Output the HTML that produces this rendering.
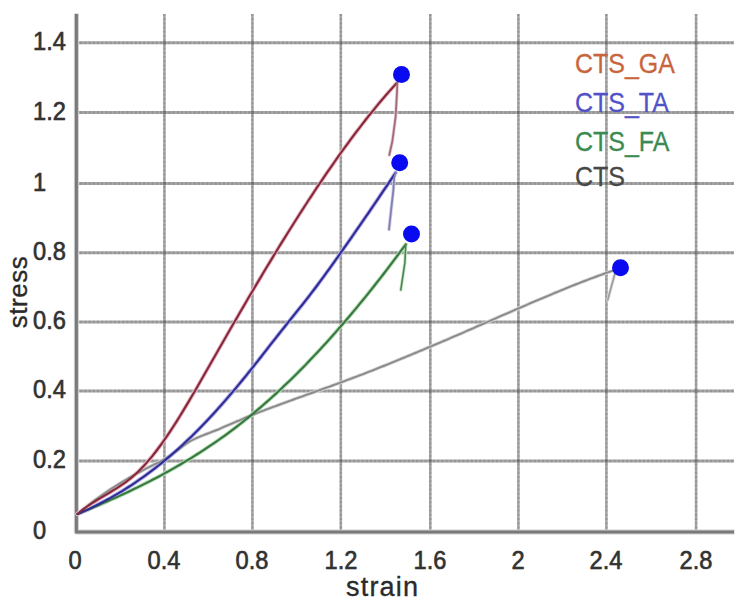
<!DOCTYPE html>
<html><head><meta charset="utf-8"><style>
html,body{margin:0;padding:0;background:#fff;}
body{width:748px;height:604px;overflow:hidden;position:relative;font-family:"Liberation Sans",sans-serif;}
svg{position:absolute;left:0;top:0;}
.t{position:absolute;white-space:nowrap;line-height:1;}
.yl{font-size:26px;color:#333;-webkit-text-stroke:0.4px #333;text-shadow:0 0 1px rgba(40,40,40,0.6);left:32.5px;transform:scaleX(0.91);transform-origin:0 0;}
.xl{font-size:26px;color:#333;-webkit-text-stroke:0.4px #333;text-shadow:0 0 1px rgba(40,40,40,0.6);top:546.9px;transform:translateX(-50%) scaleX(0.91);transform-origin:50% 0;}
.lg{font-size:28px;left:575px;-webkit-text-stroke-width:0.3px;transform:scaleX(0.892);transform-origin:0 0;}
</style></head><body>
<svg width="748" height="604" viewBox="0 0 748 604">
<defs></defs>
<g>
<g stroke="#505050" stroke-opacity="0.5" stroke-width="3" fill="none">
<line x1="76" y1="460.9" x2="734" y2="460.9"/>
<line x1="76" y1="391.0" x2="734" y2="391.0"/>
<line x1="76" y1="322.0" x2="734" y2="322.0"/>
<line x1="76" y1="252.8" x2="734" y2="252.8"/>
<line x1="76" y1="183.5" x2="734" y2="183.5"/>
<line x1="76" y1="112.5" x2="734" y2="112.5"/>
<line x1="76" y1="42.8" x2="734" y2="42.8"/>
</g>
<g stroke="#505050" stroke-opacity="0.2" stroke-width="3" fill="none" stroke-dasharray="2 2.2">
<line x1="76" y1="460.9" x2="734" y2="460.9"/>
<line x1="76" y1="391.0" x2="734" y2="391.0"/>
<line x1="76" y1="322.0" x2="734" y2="322.0"/>
<line x1="76" y1="252.8" x2="734" y2="252.8"/>
<line x1="76" y1="183.5" x2="734" y2="183.5"/>
<line x1="76" y1="112.5" x2="734" y2="112.5"/>
<line x1="76" y1="42.8" x2="734" y2="42.8"/>
</g>
<g stroke="#505050" stroke-opacity="0.5" stroke-width="3" fill="none">
<line x1="164.4" y1="14" x2="164.4" y2="531" stroke-width="2.6"/>
<line x1="252.4" y1="14" x2="252.4" y2="531" stroke-width="2.6"/>
<line x1="340.8" y1="14" x2="340.8" y2="531" stroke-width="2.6"/>
<line x1="430.3" y1="14" x2="430.3" y2="531" stroke-width="2.6"/>
<line x1="518.4" y1="14" x2="518.4" y2="531" stroke-width="2.6"/>
<line x1="606.4" y1="14" x2="606.4" y2="531" stroke-width="2.6"/>
<line x1="696.1" y1="14" x2="696.1" y2="531" stroke-width="2.6"/>
</g>
<g stroke="#505050" stroke-opacity="0.2" stroke-width="3" fill="none" stroke-dasharray="2 2.2">
<line x1="164.4" y1="14" x2="164.4" y2="531" stroke-width="2.6"/>
<line x1="252.4" y1="14" x2="252.4" y2="531" stroke-width="2.6"/>
<line x1="340.8" y1="14" x2="340.8" y2="531" stroke-width="2.6"/>
<line x1="430.3" y1="14" x2="430.3" y2="531" stroke-width="2.6"/>
<line x1="518.4" y1="14" x2="518.4" y2="531" stroke-width="2.6"/>
<line x1="606.4" y1="14" x2="606.4" y2="531" stroke-width="2.6"/>
<line x1="696.1" y1="14" x2="696.1" y2="531" stroke-width="2.6"/>
</g>
<path d="M76.4,13.5 V532 H734.5" stroke="#cfcfcf" stroke-width="5" fill="none" stroke-linejoin="round"/>
<path d="M76.4,14 V532 H734" stroke="#7a7a7a" stroke-width="3" fill="none" stroke-linejoin="round"/>
<g fill="none" stroke-linecap="round" stroke-linejoin="round">
<path d="M77.5,514.0 L80.5,511.5 L83.5,509.0 L86.5,506.7 L89.5,504.3 L92.5,502.0 L95.5,499.8 L98.5,497.6 L101.5,495.5 L104.5,493.4 L107.5,491.3 L110.5,489.3 L113.5,487.4 L116.5,485.5 L119.5,483.6 L122.5,481.8 L125.5,480.0 L128.5,478.2 L131.5,476.5 L134.5,474.8 L137.5,473.2 L140.5,471.6 L143.5,470.0 L146.5,468.4 L149.5,466.9 L152.5,465.4 L155.5,463.9 L158.5,462.4 L161.5,460.8 L164.5,459.2 L167.5,457.4 L170.5,455.5 L173.5,453.3 L176.5,451.0 L179.5,448.7 L182.5,446.4 L185.5,444.2 L188.5,442.2 L191.5,440.5 L194.5,439.0 L197.5,437.6 L200.5,436.4 L203.5,435.2 L206.5,434.0 L209.5,432.9 L212.5,431.7 L215.5,430.5 L218.5,429.3 L221.5,428.0 L224.5,426.7 L227.5,425.4 L230.5,424.1 L233.5,422.8 L236.5,421.5 L239.5,420.3 L242.5,419.0 L245.5,417.7 L248.5,416.5 L251.5,415.3 L254.5,414.1 L257.5,412.9 L260.5,411.7 L263.5,410.6 L266.5,409.4 L269.5,408.3 L272.5,407.2 L275.5,406.1 L278.5,405.0 L281.5,403.9 L284.5,402.8 L287.5,401.7 L290.5,400.6 L293.5,399.5 L296.5,398.4 L299.5,397.3 L302.5,396.3 L305.5,395.2 L308.5,394.1 L311.5,393.0 L314.5,392.0 L317.5,390.9 L320.5,389.8 L323.5,388.7 L326.5,387.6 L329.5,386.6 L332.5,385.5 L335.5,384.4 L338.5,383.3 L341.5,382.2 L344.5,381.1 L347.5,379.9 L350.5,378.8 L353.5,377.7 L356.5,376.6 L359.5,375.4 L362.5,374.3 L365.5,373.1 L368.5,371.9 L371.5,370.8 L374.5,369.6 L377.5,368.4 L380.5,367.2 L383.5,366.0 L386.5,364.8 L389.5,363.6 L392.5,362.4 L395.5,361.2 L398.5,359.9 L401.5,358.7 L404.5,357.5 L407.5,356.2 L410.5,355.0 L413.5,353.7 L416.5,352.5 L419.5,351.2 L422.5,350.0 L425.5,348.7 L428.5,347.4 L431.5,346.2 L434.5,344.9 L437.5,343.6 L440.5,342.3 L443.5,341.0 L446.5,339.8 L449.5,338.5 L452.5,337.2 L455.5,335.9 L458.5,334.6 L461.5,333.3 L464.5,332.0 L467.5,330.7 L470.5,329.4 L473.5,328.1 L476.5,326.7 L479.5,325.4 L482.5,324.1 L485.5,322.8 L488.5,321.5 L491.5,320.2 L494.5,318.9 L497.5,317.5 L500.5,316.2 L503.5,314.9 L506.5,313.6 L509.5,312.3 L512.5,311.0 L515.5,309.7 L518.5,308.4 L521.5,307.1 L524.5,305.8 L527.5,304.5 L530.5,303.2 L533.5,301.9 L536.5,300.6 L539.5,299.3 L542.5,298.1 L545.5,296.8 L548.5,295.6 L551.5,294.3 L554.5,293.0 L557.5,291.8 L560.5,290.6 L563.5,289.4 L566.5,288.1 L569.5,286.9 L572.5,285.7 L575.5,284.5 L578.5,283.4 L581.5,282.2 L584.5,281.0 L587.5,279.9 L590.5,278.7 L593.5,277.6 L596.5,276.5 L599.5,275.4 L602.5,274.3 L605.5,273.2 L608.5,272.1 L611.5,271.1 L614.5,270.0 L616.0,269.5" stroke="#d6d6d6" stroke-width="3.6"/>
<path d="M616.0,269.5 L607.7,300.0" stroke="#dedede" stroke-width="3.2"/>
<path d="M77.5,514.0 L80.5,512.8 L83.5,511.5 L86.5,510.3 L89.5,509.0 L92.5,507.7 L95.5,506.5 L98.5,505.2 L101.5,503.9 L104.5,502.6 L107.5,501.3 L110.5,499.9 L113.5,498.6 L116.5,497.2 L119.5,495.9 L122.5,494.5 L125.5,493.1 L128.5,491.7 L131.5,490.3 L134.5,488.8 L137.5,487.4 L140.5,485.9 L143.5,484.4 L146.5,482.9 L149.5,481.4 L152.5,479.8 L155.5,478.3 L158.5,476.7 L161.5,475.1 L164.5,473.4 L167.5,471.8 L170.5,470.1 L173.5,468.4 L176.5,466.7 L179.5,465.0 L182.5,463.2 L185.5,461.4 L188.5,459.6 L191.5,457.8 L194.5,455.9 L197.5,454.0 L200.5,452.1 L203.5,450.2 L206.5,448.2 L209.5,446.2 L212.5,444.2 L215.5,442.1 L218.5,440.0 L221.5,437.9 L224.5,435.8 L227.5,433.6 L230.5,431.4 L233.5,429.1 L236.5,426.8 L239.5,424.5 L242.5,422.2 L245.5,419.8 L248.5,417.4 L251.5,414.9 L254.5,412.4 L257.5,409.9 L260.5,407.4 L263.5,404.8 L266.5,402.1 L269.5,399.5 L272.5,396.8 L275.5,394.1 L278.5,391.3 L281.5,388.5 L284.5,385.6 L287.5,382.8 L290.5,379.9 L293.5,376.9 L296.5,374.0 L299.5,371.0 L302.5,367.9 L305.5,364.9 L308.5,361.7 L311.5,358.6 L314.5,355.4 L317.5,352.2 L320.5,349.0 L323.5,345.7 L326.5,342.5 L329.5,339.1 L332.5,335.8 L335.5,332.4 L338.5,328.9 L341.5,325.5 L344.5,322.0 L347.5,318.5 L350.5,315.0 L353.5,311.4 L356.5,307.8 L359.5,304.1 L362.5,300.5 L365.5,296.8 L368.5,293.1 L371.5,289.3 L374.5,285.5 L377.5,281.7 L380.5,277.9 L383.5,274.0 L386.5,270.1 L389.5,266.2 L392.5,262.2 L395.5,258.2 L398.5,254.2 L401.5,250.2 L404.5,246.1 L405.8,244.4" stroke="#b8ddb8" stroke-width="4"/>
<path d="M405.8,244.5 L404.9,262.4 L400.8,290.0" stroke="#c4e2c4" stroke-width="3.2"/>
<path d="M77.5,514.0 L80.5,512.7 L83.5,511.4 L86.5,510.1 L89.5,508.7 L92.5,507.2 L95.5,505.8 L98.5,504.3 L101.5,502.7 L104.5,501.1 L107.5,499.5 L110.5,497.9 L113.5,496.1 L116.5,494.4 L119.5,492.6 L122.5,490.8 L125.5,488.9 L128.5,487.0 L131.5,485.1 L134.5,483.1 L137.5,481.0 L140.5,478.9 L143.5,476.8 L146.5,474.6 L149.5,472.4 L152.5,470.2 L155.5,467.9 L158.5,465.5 L161.5,463.1 L164.5,460.6 L167.5,458.1 L170.5,455.6 L173.5,453.0 L176.5,450.4 L179.5,447.7 L182.5,444.9 L185.5,442.1 L188.5,439.3 L191.5,436.4 L194.5,433.5 L197.5,430.5 L200.5,427.4 L203.5,424.3 L206.5,421.2 L209.5,418.0 L212.5,414.8 L215.5,411.5 L218.5,408.1 L221.5,404.8 L224.5,401.4 L227.5,397.9 L230.5,394.4 L233.5,390.9 L236.5,387.3 L239.5,383.7 L242.5,380.0 L245.5,376.4 L248.5,372.6 L251.5,368.9 L254.5,365.1 L257.5,361.3 L260.5,357.5 L263.5,353.6 L266.5,349.8 L269.5,345.9 L272.5,342.1 L275.5,338.3 L278.5,334.5 L281.5,330.7 L284.5,327.0 L287.5,323.2 L290.5,319.4 L293.5,315.7 L296.5,311.9 L299.5,308.2 L302.5,304.5 L305.5,300.7 L308.5,296.8 L311.5,292.9 L314.5,289.0 L317.5,285.0 L320.5,280.9 L323.5,276.9 L326.5,272.7 L329.5,268.6 L332.5,264.4 L335.5,260.2 L338.5,256.0 L341.5,251.7 L344.5,247.4 L347.5,243.2 L350.5,238.8 L353.5,234.5 L356.5,230.2 L359.5,225.9 L362.5,221.5 L365.5,217.2 L368.5,212.8 L371.5,208.4 L374.5,204.0 L377.5,199.6 L380.5,195.2 L383.5,190.7 L386.5,186.3 L389.5,181.8 L392.5,177.4 L395.5,172.9 L395.6,172.7" stroke="#b4b0e8" stroke-width="4"/>
<path d="M395.6,172.7 L394.1,178.0 L393.4,189.8 L391.2,209.1 L389.0,229.5" stroke="#d0cfe6" stroke-width="3.4"/>
<path d="M77.5,514.0 L80.5,511.5 L83.5,509.2 L86.5,507.0 L89.5,504.9 L92.5,502.9 L95.5,501.0 L98.5,499.2 L101.5,497.4 L104.5,495.6 L107.5,493.8 L110.5,492.0 L113.5,490.2 L116.5,488.4 L119.5,486.4 L122.5,484.4 L125.5,482.3 L128.5,480.0 L131.5,477.6 L134.5,475.0 L137.5,472.3 L140.5,469.3 L143.5,466.2 L146.5,462.9 L149.5,459.4 L152.5,455.8 L155.5,452.0 L158.5,448.0 L161.5,444.0 L164.5,439.7 L167.5,435.4 L170.5,430.9 L173.5,426.3 L176.5,421.6 L179.5,416.8 L182.5,411.9 L185.5,406.9 L188.5,401.9 L191.5,396.8 L194.5,391.7 L197.5,386.5 L200.5,381.3 L203.5,376.0 L206.5,370.8 L209.5,365.5 L212.5,360.2 L215.5,355.0 L218.5,349.7 L221.5,344.5 L224.5,339.2 L227.5,334.0 L230.5,328.8 L233.5,323.6 L236.5,318.4 L239.5,313.2 L242.5,308.1 L245.5,303.0 L248.5,297.8 L251.5,292.7 L254.5,287.7 L257.5,282.6 L260.5,277.6 L263.5,272.5 L266.5,267.5 L269.5,262.6 L272.5,257.6 L275.5,252.7 L278.5,247.8 L281.5,242.9 L284.5,238.1 L287.5,233.3 L290.5,228.5 L293.5,223.7 L296.5,219.0 L299.5,214.3 L302.5,209.6 L305.5,205.0 L308.5,200.3 L311.5,195.8 L314.5,191.2 L317.5,186.7 L320.5,182.3 L323.5,177.8 L326.5,173.4 L329.5,169.1 L332.5,164.8 L335.5,160.5 L338.5,156.2 L341.5,152.0 L344.5,147.9 L347.5,143.8 L350.5,139.7 L353.5,135.7 L356.5,131.7 L359.5,127.8 L362.5,123.9 L365.5,120.0 L368.5,116.2 L371.5,112.5 L374.5,108.8 L377.5,105.1 L380.5,101.5 L383.5,98.0 L386.5,94.5 L389.5,91.1 L392.5,87.7 L395.5,84.4 L397.1,82.6" stroke="#e6b8c2" stroke-width="4"/>
<path d="M397.3,82.0 L397.0,92.0 L395.6,117.0 L392.4,141.0 L389.3,155.0" stroke="#e6cdd3" stroke-width="3.4"/>
<path d="M77.5,514.0 L80.5,511.5 L83.5,509.0 L86.5,506.7 L89.5,504.3 L92.5,502.0 L95.5,499.8 L98.5,497.6 L101.5,495.5 L104.5,493.4 L107.5,491.3 L110.5,489.3 L113.5,487.4 L116.5,485.5 L119.5,483.6 L122.5,481.8 L125.5,480.0 L128.5,478.2 L131.5,476.5 L134.5,474.8 L137.5,473.2 L140.5,471.6 L143.5,470.0 L146.5,468.4 L149.5,466.9 L152.5,465.4 L155.5,463.9 L158.5,462.4 L161.5,460.8 L164.5,459.2 L167.5,457.4 L170.5,455.5 L173.5,453.3 L176.5,451.0 L179.5,448.7 L182.5,446.4 L185.5,444.2 L188.5,442.2 L191.5,440.5 L194.5,439.0 L197.5,437.6 L200.5,436.4 L203.5,435.2 L206.5,434.0 L209.5,432.9 L212.5,431.7 L215.5,430.5 L218.5,429.3 L221.5,428.0 L224.5,426.7 L227.5,425.4 L230.5,424.1 L233.5,422.8 L236.5,421.5 L239.5,420.3 L242.5,419.0 L245.5,417.7 L248.5,416.5 L251.5,415.3 L254.5,414.1 L257.5,412.9 L260.5,411.7 L263.5,410.6 L266.5,409.4 L269.5,408.3 L272.5,407.2 L275.5,406.1 L278.5,405.0 L281.5,403.9 L284.5,402.8 L287.5,401.7 L290.5,400.6 L293.5,399.5 L296.5,398.4 L299.5,397.3 L302.5,396.3 L305.5,395.2 L308.5,394.1 L311.5,393.0 L314.5,392.0 L317.5,390.9 L320.5,389.8 L323.5,388.7 L326.5,387.6 L329.5,386.6 L332.5,385.5 L335.5,384.4 L338.5,383.3 L341.5,382.2 L344.5,381.1 L347.5,379.9 L350.5,378.8 L353.5,377.7 L356.5,376.6 L359.5,375.4 L362.5,374.3 L365.5,373.1 L368.5,371.9 L371.5,370.8 L374.5,369.6 L377.5,368.4 L380.5,367.2 L383.5,366.0 L386.5,364.8 L389.5,363.6 L392.5,362.4 L395.5,361.2 L398.5,359.9 L401.5,358.7 L404.5,357.5 L407.5,356.2 L410.5,355.0 L413.5,353.7 L416.5,352.5 L419.5,351.2 L422.5,350.0 L425.5,348.7 L428.5,347.4 L431.5,346.2 L434.5,344.9 L437.5,343.6 L440.5,342.3 L443.5,341.0 L446.5,339.8 L449.5,338.5 L452.5,337.2 L455.5,335.9 L458.5,334.6 L461.5,333.3 L464.5,332.0 L467.5,330.7 L470.5,329.4 L473.5,328.1 L476.5,326.7 L479.5,325.4 L482.5,324.1 L485.5,322.8 L488.5,321.5 L491.5,320.2 L494.5,318.9 L497.5,317.5 L500.5,316.2 L503.5,314.9 L506.5,313.6 L509.5,312.3 L512.5,311.0 L515.5,309.7 L518.5,308.4 L521.5,307.1 L524.5,305.8 L527.5,304.5 L530.5,303.2 L533.5,301.9 L536.5,300.6 L539.5,299.3 L542.5,298.1 L545.5,296.8 L548.5,295.6 L551.5,294.3 L554.5,293.0 L557.5,291.8 L560.5,290.6 L563.5,289.4 L566.5,288.1 L569.5,286.9 L572.5,285.7 L575.5,284.5 L578.5,283.4 L581.5,282.2 L584.5,281.0 L587.5,279.9 L590.5,278.7 L593.5,277.6 L596.5,276.5 L599.5,275.4 L602.5,274.3 L605.5,273.2 L608.5,272.1 L611.5,271.1 L614.5,270.0 L616.0,269.5" stroke="#8a8a8a" stroke-width="1.9"/>
<path d="M616.0,269.5 L607.7,300.0" stroke="#9c9c9c" stroke-width="1.6"/>
<path d="M77.5,514.0 L80.5,512.8 L83.5,511.5 L86.5,510.3 L89.5,509.0 L92.5,507.7 L95.5,506.5 L98.5,505.2 L101.5,503.9 L104.5,502.6 L107.5,501.3 L110.5,499.9 L113.5,498.6 L116.5,497.2 L119.5,495.9 L122.5,494.5 L125.5,493.1 L128.5,491.7 L131.5,490.3 L134.5,488.8 L137.5,487.4 L140.5,485.9 L143.5,484.4 L146.5,482.9 L149.5,481.4 L152.5,479.8 L155.5,478.3 L158.5,476.7 L161.5,475.1 L164.5,473.4 L167.5,471.8 L170.5,470.1 L173.5,468.4 L176.5,466.7 L179.5,465.0 L182.5,463.2 L185.5,461.4 L188.5,459.6 L191.5,457.8 L194.5,455.9 L197.5,454.0 L200.5,452.1 L203.5,450.2 L206.5,448.2 L209.5,446.2 L212.5,444.2 L215.5,442.1 L218.5,440.0 L221.5,437.9 L224.5,435.8 L227.5,433.6 L230.5,431.4 L233.5,429.1 L236.5,426.8 L239.5,424.5 L242.5,422.2 L245.5,419.8 L248.5,417.4 L251.5,414.9 L254.5,412.4 L257.5,409.9 L260.5,407.4 L263.5,404.8 L266.5,402.1 L269.5,399.5 L272.5,396.8 L275.5,394.1 L278.5,391.3 L281.5,388.5 L284.5,385.6 L287.5,382.8 L290.5,379.9 L293.5,376.9 L296.5,374.0 L299.5,371.0 L302.5,367.9 L305.5,364.9 L308.5,361.7 L311.5,358.6 L314.5,355.4 L317.5,352.2 L320.5,349.0 L323.5,345.7 L326.5,342.5 L329.5,339.1 L332.5,335.8 L335.5,332.4 L338.5,328.9 L341.5,325.5 L344.5,322.0 L347.5,318.5 L350.5,315.0 L353.5,311.4 L356.5,307.8 L359.5,304.1 L362.5,300.5 L365.5,296.8 L368.5,293.1 L371.5,289.3 L374.5,285.5 L377.5,281.7 L380.5,277.9 L383.5,274.0 L386.5,270.1 L389.5,266.2 L392.5,262.2 L395.5,258.2 L398.5,254.2 L401.5,250.2 L404.5,246.1 L405.8,244.4" stroke="#36783f" stroke-width="2.1"/>
<path d="M405.8,244.5 L404.9,262.4 L400.8,290.0" stroke="#4a8752" stroke-width="1.6"/>
<path d="M77.5,514.0 L80.5,512.7 L83.5,511.4 L86.5,510.1 L89.5,508.7 L92.5,507.2 L95.5,505.8 L98.5,504.3 L101.5,502.7 L104.5,501.1 L107.5,499.5 L110.5,497.9 L113.5,496.1 L116.5,494.4 L119.5,492.6 L122.5,490.8 L125.5,488.9 L128.5,487.0 L131.5,485.1 L134.5,483.1 L137.5,481.0 L140.5,478.9 L143.5,476.8 L146.5,474.6 L149.5,472.4 L152.5,470.2 L155.5,467.9 L158.5,465.5 L161.5,463.1 L164.5,460.6 L167.5,458.1 L170.5,455.6 L173.5,453.0 L176.5,450.4 L179.5,447.7 L182.5,444.9 L185.5,442.1 L188.5,439.3 L191.5,436.4 L194.5,433.5 L197.5,430.5 L200.5,427.4 L203.5,424.3 L206.5,421.2 L209.5,418.0 L212.5,414.8 L215.5,411.5 L218.5,408.1 L221.5,404.8 L224.5,401.4 L227.5,397.9 L230.5,394.4 L233.5,390.9 L236.5,387.3 L239.5,383.7 L242.5,380.0 L245.5,376.4 L248.5,372.6 L251.5,368.9 L254.5,365.1 L257.5,361.3 L260.5,357.5 L263.5,353.6 L266.5,349.8 L269.5,345.9 L272.5,342.1 L275.5,338.3 L278.5,334.5 L281.5,330.7 L284.5,327.0 L287.5,323.2 L290.5,319.4 L293.5,315.7 L296.5,311.9 L299.5,308.2 L302.5,304.5 L305.5,300.7 L308.5,296.8 L311.5,292.9 L314.5,289.0 L317.5,285.0 L320.5,280.9 L323.5,276.9 L326.5,272.7 L329.5,268.6 L332.5,264.4 L335.5,260.2 L338.5,256.0 L341.5,251.7 L344.5,247.4 L347.5,243.2 L350.5,238.8 L353.5,234.5 L356.5,230.2 L359.5,225.9 L362.5,221.5 L365.5,217.2 L368.5,212.8 L371.5,208.4 L374.5,204.0 L377.5,199.6 L380.5,195.2 L383.5,190.7 L386.5,186.3 L389.5,181.8 L392.5,177.4 L395.5,172.9 L395.6,172.7" stroke="#302c96" stroke-width="2.1"/>
<path d="M395.6,172.7 L394.1,178.0 L393.4,189.8 L391.2,209.1 L389.0,229.5" stroke="#8280b2" stroke-width="1.8"/>
<path d="M77.5,514.0 L80.5,511.5 L83.5,509.2 L86.5,507.0 L89.5,504.9 L92.5,502.9 L95.5,501.0 L98.5,499.2 L101.5,497.4 L104.5,495.6 L107.5,493.8 L110.5,492.0 L113.5,490.2 L116.5,488.4 L119.5,486.4 L122.5,484.4 L125.5,482.3 L128.5,480.0 L131.5,477.6 L134.5,475.0 L137.5,472.3 L140.5,469.3 L143.5,466.2 L146.5,462.9 L149.5,459.4 L152.5,455.8 L155.5,452.0 L158.5,448.0 L161.5,444.0 L164.5,439.7 L167.5,435.4 L170.5,430.9 L173.5,426.3 L176.5,421.6 L179.5,416.8 L182.5,411.9 L185.5,406.9 L188.5,401.9 L191.5,396.8 L194.5,391.7 L197.5,386.5 L200.5,381.3 L203.5,376.0 L206.5,370.8 L209.5,365.5 L212.5,360.2 L215.5,355.0 L218.5,349.7 L221.5,344.5 L224.5,339.2 L227.5,334.0 L230.5,328.8 L233.5,323.6 L236.5,318.4 L239.5,313.2 L242.5,308.1 L245.5,303.0 L248.5,297.8 L251.5,292.7 L254.5,287.7 L257.5,282.6 L260.5,277.6 L263.5,272.5 L266.5,267.5 L269.5,262.6 L272.5,257.6 L275.5,252.7 L278.5,247.8 L281.5,242.9 L284.5,238.1 L287.5,233.3 L290.5,228.5 L293.5,223.7 L296.5,219.0 L299.5,214.3 L302.5,209.6 L305.5,205.0 L308.5,200.3 L311.5,195.8 L314.5,191.2 L317.5,186.7 L320.5,182.3 L323.5,177.8 L326.5,173.4 L329.5,169.1 L332.5,164.8 L335.5,160.5 L338.5,156.2 L341.5,152.0 L344.5,147.9 L347.5,143.8 L350.5,139.7 L353.5,135.7 L356.5,131.7 L359.5,127.8 L362.5,123.9 L365.5,120.0 L368.5,116.2 L371.5,112.5 L374.5,108.8 L377.5,105.1 L380.5,101.5 L383.5,98.0 L386.5,94.5 L389.5,91.1 L392.5,87.7 L395.5,84.4 L397.1,82.6" stroke="#86283a" stroke-width="2.1"/>
<path d="M397.3,82.0 L397.0,92.0 L395.6,117.0 L392.4,141.0 L389.3,155.0" stroke="#a06c78" stroke-width="1.8"/>
</g>
<g fill="#0a0af0">
<circle cx="401.5" cy="74.5" r="8.5"/>
<circle cx="399.7" cy="162.7" r="8.5"/>
<circle cx="411.5" cy="234" r="8.5"/>
<circle cx="620.5" cy="267.7" r="8.5"/>
</g>
</g>
</svg>
<div class="t yl" style="top:27.85px">1.4</div>
<div class="t yl" style="top:97.55px">1.2</div>
<div class="t yl" style="top:168.55px">1</div>
<div class="t yl" style="top:237.85px">0.8</div>
<div class="t yl" style="top:307.05px">0.6</div>
<div class="t yl" style="top:376.05px">0.4</div>
<div class="t yl" style="top:445.95px">0.2</div>
<div class="t yl" style="top:517.05px">0</div>
<div class="t xl" style="left:75px">0</div>
<div class="t xl" style="left:164.4px">0.4</div>
<div class="t xl" style="left:252.4px">0.8</div>
<div class="t xl" style="left:340.8px">1.2</div>
<div class="t xl" style="left:430.3px">1.6</div>
<div class="t xl" style="left:518.4px">2</div>
<div class="t xl" style="left:606.4px">2.4</div>
<div class="t xl" style="left:696.1px">2.8</div>
<div class="t" style="left:346px;top:574px;font-size:27px;letter-spacing:1.2px;color:#2a2a2a;-webkit-text-stroke:0.35px #2a2a2a">strain</div>
<div class="t" style="left:5px;top:292px;font-size:26px;letter-spacing:0.5px;color:#2a2a2a;-webkit-text-stroke:0.35px #2a2a2a;transform-origin:0 0;transform:rotate(-90deg) translate(-50%,0)">stress</div>
<div class="t lg" style="top:49.6px;color:#c8653c">CTS_GA</div>
<div class="t lg" style="top:89.3px;color:#5252c8">CTS_TA</div>
<div class="t lg" style="top:128.3px;color:#3a8a52">CTS_FA</div>
<div class="t lg" style="top:162.8px;color:#474747">CTS</div>
</body></html>
